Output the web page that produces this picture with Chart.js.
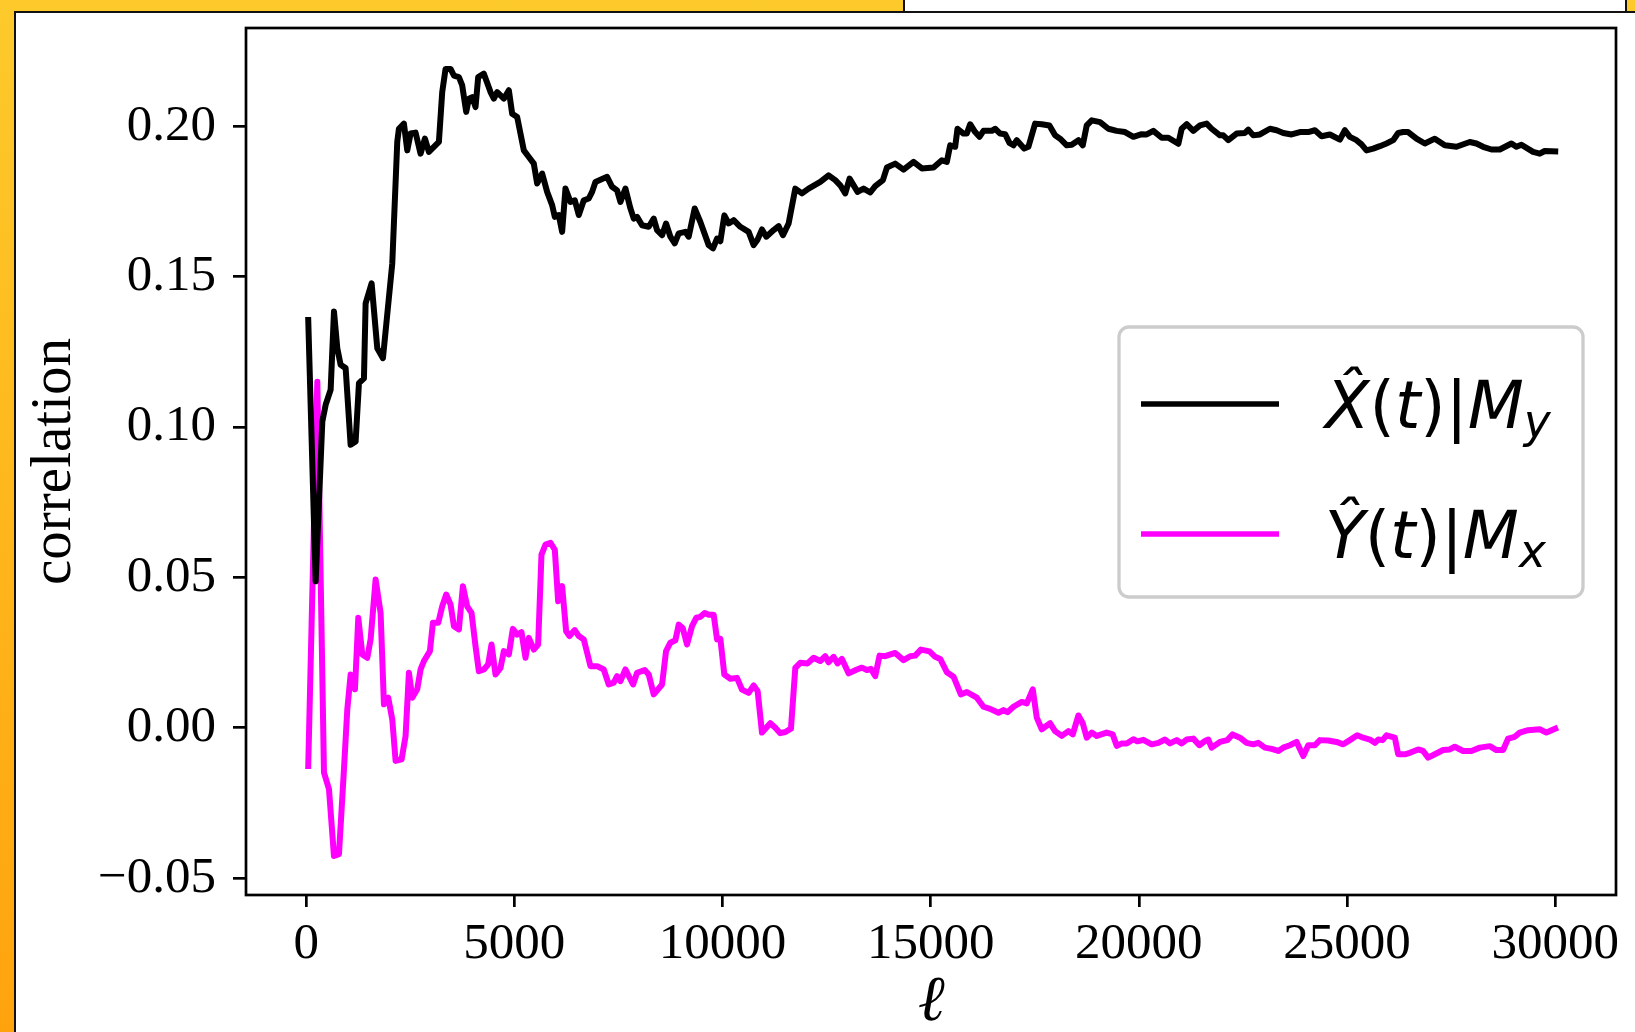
<!DOCTYPE html>
<html>
<head>
<meta charset="utf-8">
<title>correlation vs l</title>
<script src="https://cdn.jsdelivr.net/npm/chart.js@4.4.1/dist/chart.umd.min.js"></script>
<style>
body { margin:0; width:1635px; height:1032px; overflow:hidden; position:relative;
  background: linear-gradient(to bottom, #fdca2b, #ffa30d); }
#topbox { position:absolute; left:903px; top:-2px; width:720px; height:11px; background:#fff; border:2px solid #111; }
#panel { position:absolute; left:14px; top:11px; right:0; bottom:0; background:#fff; border-top:2px solid #111; border-left:2px solid #111; }
#myChart { position:absolute; left:0; top:0; }
</style>
</head>
<body>
<div id="topbox"></div>
<div id="panel"></div>
<canvas id="myChart" width="1635" height="1032"></canvas>
<script>
// values: l on x, correlation on y
var blackL = [50,228,388,468,588,668,748,828,948,1068,1188,1268,1388,1428,1572,1708,1844,2068,2188,2228,2348,2428,2508,2628,2748,2852,2948,3188,3268,3348,3468,3548,3668,3748,3844,3908,3988,4068,4132,4268,4428,4508,4588,4748,4868,4948,5068,5228,5348,5468,5548,5668,5788,5908,5972,6068,6148,6228,6348,6452,6548,6668,6788,6868,6948,7228,7348,7468,7548,7668,7788,7868,7948,8068,8228,8348,8428,8548,8644,8748,8852,8948,9108,9188,9332,9468,9668,9772,9868,9948,10044,10148,10268,10428,10628,10748,10844,10948,11052,11228,11348,11452,11588,11748,11908,12068,12348,12548,12708,12828,12948,13052,13244,13388,13548,13668,13852,13948,14148,14348,14588,14788,15068,15268,15388,15468,15588,15644,15788,15868,15948,16068,16172,16268,16468,16548,16668,16788,16892,16988,17068,17244,17348,17508,17668,17852,17988,18108,18268,18388,18548,18652,18748,18868,19068,19268,19468,19668,19868,20068,20188,20348,20548,20708,20948,21028,21148,21308,21468,21628,21748,21948,22028,22148,22348,22548,22628,22748,22908,23148,23308,23468,23668,23868,24068,24228,24388,24588,24828,24948,25068,25228,25348,25468,25628,25788,25948,26108,26228,26348,26468,26668,26868,27108,27348,27628,27948,28108,28268,28468,28668,28948,29068,29188,29468,29628,29748,30000];
var blackV = [0.1356,0.0487,0.1018,0.1074,0.1124,0.1384,0.1262,0.1207,0.1196,0.0941,0.0952,0.1146,0.1162,0.1411,0.1478,0.1262,0.1229,0.1544,0.1948,0.1992,0.2009,0.1920,0.1976,0.1979,0.1909,0.1959,0.1915,0.1948,0.2114,0.2191,0.2191,0.2169,0.2164,0.2136,0.2048,0.2092,0.2097,0.2064,0.2164,0.2175,0.2114,0.2092,0.2114,0.2092,0.2120,0.2042,0.2031,0.1920,0.1898,0.1876,0.1810,0.1843,0.1782,0.1738,0.1699,0.1705,0.1649,0.1793,0.1749,0.1754,0.1705,0.1754,0.1760,0.1782,0.1815,0.1832,0.1799,0.1787,0.1749,0.1793,0.1727,0.1693,0.1699,0.1671,0.1666,0.1693,0.1655,0.1638,0.1677,0.1633,0.1611,0.1644,0.1649,0.1633,0.1727,0.1682,0.1605,0.1594,0.1627,0.1618,0.1704,0.1677,0.1688,0.1666,0.1649,0.1605,0.1624,0.1657,0.1633,0.1655,0.1668,0.1638,0.1677,0.1793,0.1777,0.1793,0.1815,0.1837,0.1821,0.1804,0.1777,0.1826,0.1782,0.1793,0.1780,0.1801,0.1821,0.1863,0.1876,0.1856,0.1882,0.1860,0.1863,0.1887,0.1882,0.1937,0.1932,0.1992,0.1976,0.1976,0.2007,0.1981,0.1965,0.1985,0.1985,0.1992,0.1976,0.1974,0.1945,0.1937,0.1954,0.1926,0.1932,0.2009,0.2007,0.2003,0.1970,0.1959,0.1937,0.1939,0.1954,0.1937,0.2003,0.2020,0.2014,0.1992,0.1985,0.1981,0.1965,0.1974,0.1973,0.1985,0.1962,0.1962,0.1942,0.1992,0.2007,0.1985,0.2003,0.2009,0.1992,0.1970,0.1970,0.1954,0.1976,0.1978,0.1989,0.1970,0.1973,0.1992,0.1987,0.1978,0.1973,0.1981,0.1981,0.1987,0.1967,0.1973,0.1956,0.1987,0.1965,0.1954,0.1940,0.1920,0.1926,0.1934,0.1943,0.1954,0.1978,0.1981,0.1981,0.1959,0.1943,0.1959,0.1937,0.1932,0.1948,0.1943,0.1932,0.1923,0.1923,0.1943,0.1932,0.1939,0.1915,0.1909,0.1918,0.1917];

var pinkL = [50,268,428,548,668,788,908,988,1068,1172,1252,1348,1468,1548,1668,1788,1868,1972,2068,2148,2292,2388,2468,2548,2668,2748,2828,2972,3044,3172,3268,3364,3468,3548,3668,3764,3868,3972,4068,4148,4268,4372,4452,4548,4668,4748,4868,4964,5068,5172,5268,5348,5468,5572,5652,5748,5868,5972,6052,6148,6244,6324,6452,6548,6668,6828,6988,7148,7268,7388,7468,7548,7668,7852,7948,8132,8228,8348,8548,8644,8748,8868,8948,9044,9148,9268,9372,9468,9572,9668,9788,9868,9948,10044,10188,10348,10468,10628,10748,10844,10948,11148,11268,11388,11508,11644,11748,11868,12044,12188,12348,12468,12548,12668,12764,12868,13028,13228,13348,13468,13564,13668,13772,13908,14148,14348,14508,14628,14764,14972,15108,15228,15388,15548,15724,15868,16108,16268,16428,16628,16748,16844,16988,17188,17308,17452,17548,17668,17868,17988,18148,18308,18412,18548,18652,18748,18868,18988,19228,19372,19468,19588,19708,19868,19964,20108,20308,20468,20628,20748,20908,21028,21148,21308,21452,21588,21668,21748,21948,22124,22252,22428,22588,22748,22868,23028,23188,23348,23468,23628,23788,23948,24068,24228,24348,24548,24748,24908,25068,25244,25388,25548,25668,25748,25852,25948,26148,26228,26388,26508,26708,26828,26948,27108,27308,27468,27588,27788,27988,28188,28428,28588,28748,28868,29028,29148,29348,29628,29788,30000];
var pinkV = [-0.0127,0.1151,-0.0149,-0.0204,-0.0426,-0.0420,-0.0138,0.0061,0.0177,0.0128,0.0366,0.0244,0.0233,0.0294,0.0493,0.0382,0.0078,0.0100,0.0028,-0.0110,-0.0105,-0.0027,0.0183,0.0100,0.0128,0.0194,0.0222,0.0255,0.0349,0.0349,0.0404,0.0443,0.0410,0.0338,0.0327,0.0471,0.0404,0.0382,0.0271,0.0188,0.0194,0.0211,0.0277,0.0177,0.0199,0.0255,0.0244,0.0329,0.0310,0.0318,0.0233,0.0299,0.0260,0.0277,0.0576,0.0609,0.0615,0.0592,0.0421,0.0471,0.0321,0.0305,0.0325,0.0305,0.0294,0.0205,0.0205,0.0194,0.0144,0.0150,0.0172,0.0155,0.0194,0.0144,0.0183,0.0192,0.0177,0.0111,0.0144,0.0255,0.0283,0.0291,0.0343,0.0332,0.0277,0.0338,0.0366,0.0369,0.0382,0.0376,0.0376,0.0294,0.0296,0.0177,0.0163,0.0166,0.0127,0.0116,0.0141,0.0122,-0.0016,0.0015,0.0000,-0.0018,-0.0014,-0.0003,0.0199,0.0216,0.0214,0.0233,0.0222,0.0238,0.0218,0.0236,0.0214,0.0229,0.0181,0.0194,0.0200,0.0192,0.0196,0.0172,0.0240,0.0238,0.0249,0.0225,0.0238,0.0240,0.0260,0.0254,0.0236,0.0229,0.0185,0.0170,0.0111,0.0119,0.0100,0.0070,0.0063,0.0050,0.0059,0.0052,0.0070,0.0086,0.0081,0.0128,0.0034,-0.0005,0.0015,-0.0011,-0.0027,-0.0011,-0.0022,0.0041,0.0015,-0.0033,-0.0016,-0.0027,-0.0016,-0.0022,-0.0060,-0.0052,-0.0052,-0.0038,-0.0045,-0.0040,-0.0055,-0.0050,-0.0039,-0.0052,-0.0041,-0.0052,-0.0039,-0.0036,-0.0058,-0.0044,-0.0039,-0.0066,-0.0047,-0.0041,-0.0022,-0.0033,-0.0050,-0.0055,-0.0050,-0.0066,-0.0070,-0.0077,-0.0066,-0.0058,-0.0047,-0.0094,-0.0058,-0.0058,-0.0041,-0.0042,-0.0047,-0.0055,-0.0041,-0.0025,-0.0033,-0.0039,-0.0050,-0.0039,-0.0041,-0.0025,-0.0033,-0.0088,-0.0088,-0.0083,-0.0072,-0.0077,-0.0099,-0.0088,-0.0074,-0.0072,-0.0063,-0.0077,-0.0077,-0.0066,-0.0061,-0.0074,-0.0074,-0.0036,-0.0030,-0.0016,-0.0008,-0.0005,-0.0016,-0.0003];

var xTicks = [0, 5000, 10000, 15000, 20000, 25000, 30000];
var yTicks = [-0.05, 0.00, 0.05, 0.10, 0.15, 0.20];
var labels = ['X\u0302(t)|M_y', 'Y\u0302(t)|M_x'];
var colors = ['#000000', '#ff00ff'];

var serif = "'Liberation Serif', 'Times New Roman', serif";

function toPoints(xs, ys) {
    var pts = [];
    for (var i = 0; i < xs.length; i++) {
        pts.push({x: xs[i], y: ys[i]});
    }
    return pts;
}

// mathtext-ish: letters italic, "_" makes the next char a subscript
function drawMath(c, text, x, y, size) {
    var i = 0;
    while (i < text.length) {
        var ch = text[i];
        var sub = false;
        if (ch === '_') { sub = true; i++; ch = text[i]; }
        i++;
        while (i < text.length && /[\u0300-\u036f]/.test(text[i])) { ch += text[i]; i++; }
        var italic = /[A-Za-z]/.test(ch[0]);
        var s = sub ? size * 0.7 : size;
        c.font = (italic ? 'italic ' : '') + s + 'px "DejaVu Sans"';
        c.fillText(ch, x, sub ? y + 9 : y);
        x += c.measureText(ch).width;
    }
}

function drawLegend(chart) {
    var c = chart.ctx;
    c.save();
    c.beginPath();
    c.roundRect(1119, 327, 464, 270, 10);
    c.fillStyle = 'rgba(255,255,255,0.8)';
    c.fill();
    c.lineWidth = 3.3;
    c.strokeStyle = '#cccccc';
    c.stroke();

    var rows = [404, 534];
    var base = [427.5, 557.5];
    chart.data.datasets.forEach(function(ds, k) {
        c.beginPath();
        c.moveTo(1141, rows[k]);
        c.lineTo(1279, rows[k]);
        c.lineWidth = 5.5;
        c.lineCap = 'butt';
        c.strokeStyle = ds.borderColor;
        c.stroke();
        c.fillStyle = '#000';
        c.textBaseline = 'alphabetic';
        c.textAlign = 'left';
        drawMath(c, ds.label, 1325, base[k], 65);
    });
    c.restore();
}

var frame = {
    id: 'frame',
    afterDatasetsDraw: function(chart) {
        var a = chart.chartArea;
        var c = chart.ctx;
        c.save();
        c.strokeStyle = '#000';
        c.lineWidth = 2.7;
        c.strokeRect(a.left, a.top, a.right - a.left, a.bottom - a.top);
        c.restore();
        drawLegend(chart);
    }
};

let myChart = document.getElementById('myChart').getContext('2d');

let chart1 = new Chart(myChart, {
    type: 'line',
    data: {
        datasets: [
            {
                label: labels[0],
                data: toPoints(blackL, blackV),
                borderColor: colors[0],
                borderWidth: 6,
                pointRadius: 0,
                tension: 0,
                fill: false,
                borderJoinStyle: 'round',
                borderCapStyle: 'square'
            },
            {
                label: labels[1],
                data: toPoints(pinkL, pinkV),
                borderColor: colors[1],
                borderWidth: 6,
                pointRadius: 0,
                tension: 0,
                fill: false,
                borderJoinStyle: 'round',
                borderCapStyle: 'square'
            }
        ]
    },
    options: {
        responsive: false,
        animation: false,
        devicePixelRatio: 1,
        layout: { padding: { left: 0, top: 28, right: 19, bottom: 0 } },
        plugins: {
            legend: { display: false },
            tooltip: { enabled: false }
        },
        scales: {
            x: {
                type: 'linear',
                min: -1445,
                max: 31460,
                afterBuildTicks: function(s) { s.ticks = xTicks.map(function(v) { return {value: v}; }); },
                afterFit: function(s) { s.height = 137; s.paddingLeft = 0; s.paddingRight = 0; },
                border: { display: false },
                grid: { drawOnChartArea: false, drawTicks: true, tickLength: 12, color: '#000', lineWidth: 2.7 },
                ticks: {
                    color: '#000',
                    font: { family: serif, size: 51 },
                    padding: 7,
                    maxRotation: 0,
                    autoSkip: false,
                    callback: function(v) { return String(v); }
                },
                title: {
                    display: true,
                    text: '\u2113',
                    color: '#000',
                    font: { family: serif, size: 64, style: 'italic', lineHeight: 0.9 },
                    padding: { top: 0, bottom: 0 }
                }
            },
            y: {
                type: 'linear',
                min: -0.0556,
                max: 0.2327,
                afterBuildTicks: function(s) { s.ticks = yTicks.map(function(v) { return {value: v}; }); },
                afterFit: function(s) { s.width = 246; s.paddingTop = 0; s.paddingBottom = 0; },
                border: { display: false },
                grid: { drawOnChartArea: false, drawTicks: true, tickLength: 13, color: '#000', lineWidth: 2.7 },
                ticks: {
                    color: '#000',
                    font: { family: serif, size: 51 },
                    padding: 17,
                    autoSkip: false,
                    callback: function(v) { return (v < 0 ? '\u2212' : '') + Math.abs(v).toFixed(2); }
                },
                title: {
                    display: true,
                    text: 'correlation',
                    color: '#000',
                    font: { family: serif, size: 57 },
                    padding: { top: 21, bottom: 0 }
                }
            }
        }
    },
    plugins: [frame]
});
</script>
</body>
</html>
